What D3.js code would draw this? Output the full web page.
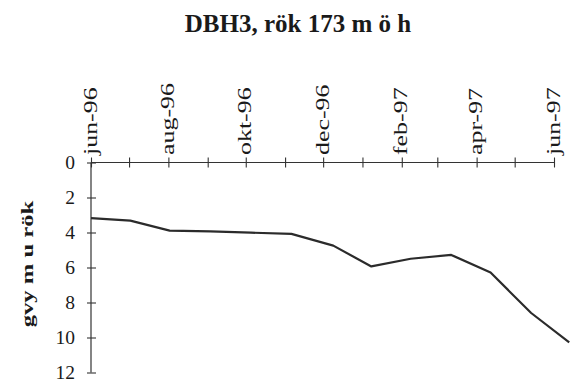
<!DOCTYPE html>
<html>
<head>
<meta charset="utf-8">
<script src="https://cdn.jsdelivr.net/npm/d3@7"></script>
<style>
body{margin:0;background:#fff;}
svg{display:block;}
text{font-family:"Liberation Serif","Times New Roman",serif;fill:#1a1a1a;}
</style>
</head>
<body>
<svg id="c" width="579" height="380"></svg>
<script>
const title = "DBH3, rök 173 m ö h";
const yTitle = "gvy m u rök";
const dates = ["1996-06-01","1996-07-02","1996-08-02","1996-09-03","1996-10-05","1996-11-06","1996-12-09","1997-01-08","1997-02-08","1997-03-12","1997-04-12","1997-05-14","1997-06-13"];
const depths = [3.18, 3.32, 3.89, 3.94, 4.01, 4.08, 4.75, 5.94, 5.50, 5.28, 6.29, 8.60, 10.28];
const monthNames = ["jan","feb","mar","apr","maj","jun","jul","aug","sep","okt","nov","dec"];
const yTicks = [0,2,4,6,8,10,12];

const parse = d3.timeParse("%Y-%m-%d");
const data = dates.map((d,i)=>({date:parse(d), v:depths[i]}));

const svg = d3.select("#c");
const x = d3.scaleTime().domain([new Date(1996,5,1), new Date(1997,5,1)]).range([91,554]);
const y = d3.scaleLinear().domain([0,12]).range([162.5,372.5]);

const months = d3.timeMonth.range(new Date(1996,5,1), new Date(1997,5,2));
const fmt = d => monthNames[d.getMonth()] + "-" + String(d.getFullYear()).slice(2);

// x axis (top)
const xAxis = d3.axisTop(x).tickValues(months).tickSize(0).tickFormat("");
const gx = svg.append("g").attr("transform",`translate(0,${y(0)})`).call(xAxis);
gx.select(".domain").attr("stroke","#333").attr("stroke-width",1.2).attr("d",`M${x.range()[0]},0H${x.range()[1]}`);
gx.selectAll(".tick").append("line").attr("y1",-5).attr("y2",5).attr("stroke","#333").attr("stroke-width",1.1);
months.forEach((m,i)=>{
  if(i%2===0){
    svg.append("text")
      .attr("transform",`translate(${x(m)},155) rotate(-90) scale(1.4,1)`)
      .attr("dy","0.3em")
      .attr("text-anchor","start")
      .style("font-size","18.5px")
      .text(fmt(m));
  }
});

// y axis
const yAxis = d3.axisLeft(y).tickValues(yTicks).tickSize(0).tickPadding(16);
const gy = svg.append("g").attr("transform",`translate(${x.range()[0]},0)`).call(yAxis);
gy.select(".domain").attr("stroke","#333").attr("stroke-width",1.2).attr("d",`M0,${y(0)}V${y(12)}`);
gy.selectAll(".tick").append("line").attr("x1",-4).attr("x2",5).attr("stroke","#333").attr("stroke-width",1.1);
gy.selectAll(".tick text").style("font-size","19.5px").style("font-family","'Liberation Serif',serif").attr("fill","#1a1a1a").attr("dy","0.32em");
gy.selectAll(".tick").filter(d=>d===0).select("line").remove();

// line
const line = d3.line().x(d=>x(d.date)).y(d=>y(d.v));
svg.append("path").datum(data).attr("d",line).attr("fill","none").attr("stroke","#2b2b2b").attr("stroke-width",2.2).attr("stroke-linejoin","round");

// titles
svg.append("text").attr("x",298).attr("y",31.5).attr("text-anchor","middle")
  .style("font-size","25px").style("font-weight","bold").text(title);
svg.append("text").attr("transform",`translate(33,264) rotate(-90) scale(1.45,1)`)
  .attr("text-anchor","middle").style("font-size","17px").style("font-weight","bold").text(yTitle);
</script>
</body>
</html>
